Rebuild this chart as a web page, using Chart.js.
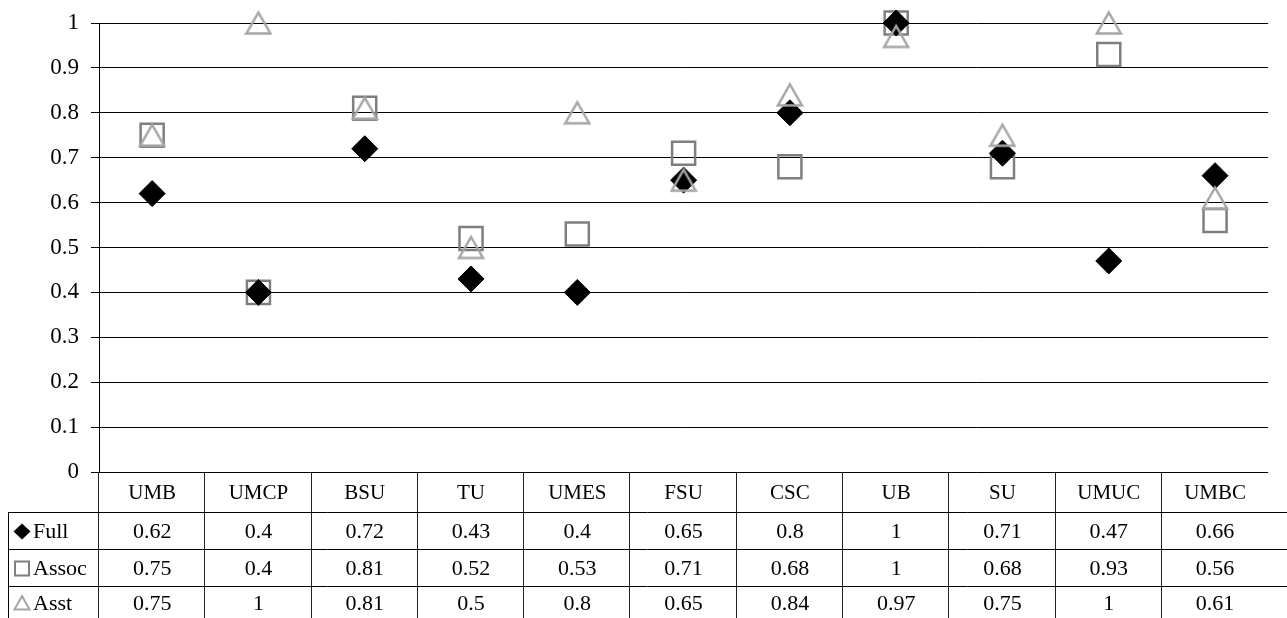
<!DOCTYPE html>
<html>
<head>
<meta charset="utf-8">
<script src="https://cdn.jsdelivr.net/npm/chart.js@4.4.0/dist/chart.umd.min.js"></script>
<style>
  html, body { margin: 0; padding: 0; background: #fff; }
  #wrap { width: 1287px; height: 618px; }
</style>
</head>
<body>
<div id="wrap"><canvas id="chart" width="1287" height="618"></canvas></div>
<script>
var categories = ['UMB', 'UMCP', 'BSU', 'TU', 'UMES', 'FSU', 'CSC', 'UB', 'SU', 'UMUC', 'UMBC'];
var fullValues = [0.62, 0.4, 0.72, 0.43, 0.4, 0.65, 0.8, 1, 0.71, 0.47, 0.66];
var assocValues = [0.75, 0.4, 0.81, 0.52, 0.53, 0.71, 0.68, 1, 0.68, 0.93, 0.56];
var asstValues = [0.75, 1, 0.81, 0.5, 0.8, 0.65, 0.84, 0.97, 0.75, 1, 0.61];
var seriesNames = ['Full', 'Assoc', 'Asst'];
var yTicks = [0, 0.1, 0.2, 0.3, 0.4, 0.5, 0.6, 0.7, 0.8, 0.9, 1];

var FONT = "'Liberation Serif', 'Times New Roman', serif";
var SQUARE_GREY = '#7f7f7f';
var TRIANGLE_GREY = '#a6a6a6';

// excel style triangle, centred on its box rather than its centroid
function triangleMarker() {
  var c = document.createElement('canvas');
  c.width = 28;
  c.height = 28;
  var g = c.getContext('2d');
  g.strokeStyle = TRIANGLE_GREY;
  g.lineWidth = 2.5;
  g.beginPath();
  g.moveTo(14, 3.5);
  g.lineTo(26, 24.5);
  g.lineTo(2, 24.5);
  g.closePath();
  g.stroke();
  return c;
}

function legendKey(ctx, i, cx, cy) {
  ctx.save();
  ctx.beginPath();
  if (i === 0) {
    ctx.moveTo(cx, cy - 8);
    ctx.lineTo(cx + 8.5, cy);
    ctx.lineTo(cx, cy + 8);
    ctx.lineTo(cx - 8.5, cy);
    ctx.closePath();
    ctx.fillStyle = '#000';
    ctx.fill();
  } else if (i === 1) {
    ctx.rect(cx - 7, cy - 7, 14, 14);
    ctx.strokeStyle = SQUARE_GREY;
    ctx.lineWidth = 2;
    ctx.stroke();
  } else {
    ctx.moveTo(cx, cy - 7);
    ctx.lineTo(cx + 7.5, cy + 6.5);
    ctx.lineTo(cx - 7.5, cy + 6.5);
    ctx.closePath();
    ctx.strokeStyle = TRIANGLE_GREY;
    ctx.lineWidth = 2;
    ctx.stroke();
  }
  ctx.restore();
}

var dataTable = {
  id: 'dataTable',
  afterDraw: function (chart) {
    var ctx = chart.ctx;
    var area = chart.chartArea;
    var xs = chart.scales.x;
    var colW = xs.getPixelForValue(1) - xs.getPixelForValue(0);
    var top = Math.round(area.bottom);
    var rows = [top, top + 40, top + 77, top + 114, chart.height];
    var keyLeft = 8;
    var seriesValues = [fullValues, assocValues, asstValues];

    ctx.save();
    ctx.lineWidth = 1;
    ctx.strokeStyle = '#222';
    // column lines
    for (var i = 0; i < categories.length; i++) {
      var lx = Math.round(area.left + i * colW) - 0.5;
      ctx.beginPath();
      ctx.moveTo(lx, rows[0]);
      ctx.lineTo(lx, rows[4]);
      ctx.stroke();
    }
    // row lines
    ctx.strokeStyle = '#000';
    for (var r = 1; r <= 3; r++) {
      ctx.beginPath();
      ctx.moveTo(keyLeft, rows[r] + 0.5);
      ctx.lineTo(chart.width, rows[r] + 0.5);
      ctx.stroke();
    }
    ctx.beginPath();
    ctx.moveTo(keyLeft + 0.5, rows[1]);
    ctx.lineTo(keyLeft + 0.5, rows[4]);
    ctx.stroke();

    ctx.fillStyle = '#000';
    ctx.textAlign = 'center';
    ctx.textBaseline = 'middle';
    categories.forEach(function (name, k) {
      var cx = xs.getPixelForValue(k);
      ctx.font = '21px ' + FONT;
      ctx.fillText(name, cx, (rows[0] + rows[1]) / 2 + 1);
      ctx.font = '22px ' + FONT;
      seriesValues.forEach(function (vals, s) {
        ctx.fillText(String(vals[k]), cx, (rows[s + 1] + rows[s + 2]) / 2 + 2);
      });
    });

    ctx.textAlign = 'left';
    ctx.font = '22px ' + FONT;
    seriesNames.forEach(function (name, s) {
      var cy = (rows[s + 1] + rows[s + 2]) / 2;
      legendKey(ctx, s, 22, cy + 1);
      ctx.fillStyle = '#000';
      ctx.fillText(name, 33, cy + 2);
    });
    ctx.restore();
  }
};

new Chart(document.getElementById('chart'), {
  type: 'line',
  data: {
    labels: categories,
    datasets: [{
      label: seriesNames[0],
      data: fullValues,
      showLine: false,
      clip: false,
      order: 1,
      pointStyle: 'rectRot',
      pointRadius: 13,
      pointHoverRadius: 13,
      pointBackgroundColor: '#000',
      pointBorderColor: '#000',
      pointBorderWidth: 1
    }, {
      label: seriesNames[1],
      data: assocValues,
      showLine: false,
      clip: false,
      order: 2,
      pointStyle: 'rect',
      pointRadius: 16.3,
      pointHoverRadius: 16.3,
      pointBackgroundColor: 'rgba(0,0,0,0)',
      pointBorderColor: SQUARE_GREY,
      pointBorderWidth: 2.5
    }, {
      label: seriesNames[2],
      data: asstValues,
      showLine: false,
      clip: false,
      order: 0,
      pointStyle: triangleMarker(),
      pointRadius: 14,
      pointHoverRadius: 14
    }]
  },
  options: {
    responsive: false,
    animation: false,
    events: [],
    layout: { padding: { top: 23, right: 3, bottom: 146, left: 0 } },
    plugins: {
      legend: { display: false },
      tooltip: { enabled: false }
    },
    scales: {
      x: {
        type: 'category',
        offset: true,
        display: false
      },
      y: {
        min: 0,
        max: 1,
        afterFit: function (s) {
          s.width = 99;
          s.paddingTop = 0;
          s.paddingBottom = 0;
        },
        afterBuildTicks: function (s) {
          s.ticks = yTicks.map(function (v) { return { value: v }; });
        },
        ticks: {
          color: '#000',
          padding: 12,
          font: { family: FONT, size: 23 },
          callback: function (v) { return String(v); }
        },
        grid: { color: '#000', lineWidth: 1, tickLength: 8 },
        border: { display: true, color: '#000', width: 1 }
      }
    }
  },
  plugins: [dataTable]
});
</script>
</body>
</html>
